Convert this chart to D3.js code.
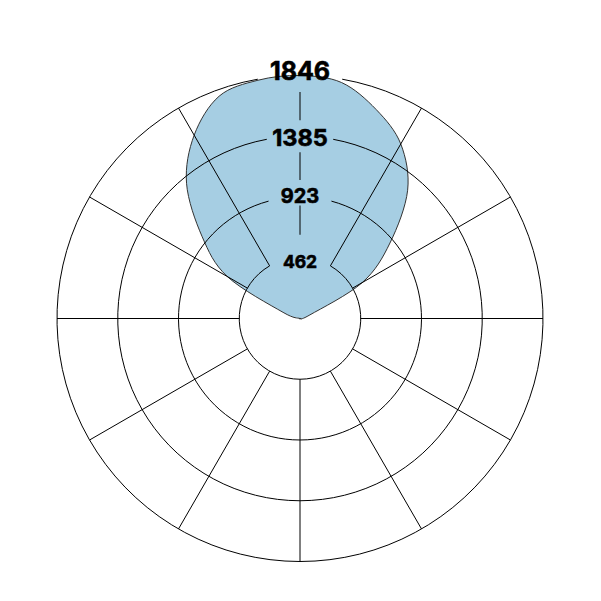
<!DOCTYPE html>
<html>
<head>
<meta charset="utf-8">
<script src="https://cdn.jsdelivr.net/npm/d3@7"></script>
<style>
    body { margin: 0; background: #fff; }
    svg { display: block; }
    .tick-label { font-family: Inter, "Noto Sans", sans-serif; font-weight: 700; fill: #000; stroke: #000; stroke-width: 0.6px; }
</style>
</head>
<body>
<div id="chart"></div>
<script>
// Direction of each sample in degrees, clockwise from the top
const angles = [0, 10, 20, 30, 40, 50, 60, 70, 80, 90, 100, 110, 120, 130, 140, 150, 160, 170,
    180, 190, 200, 210, 220, 230, 240, 250, 260, 270, 280, 290, 300, 310, 320, 330, 340, 350];

// Value measured in each direction
const values = [1846, 1820, 1690, 1531, 1272, 892, 547, 80, 0, 0, 0, 0, 0, 0, 0, 0, 0, 0,
    0, 0, 0, 0, 0, 0, 0, 0, 0, 0, 0, 137, 638, 972, 1341, 1608, 1797, 1838];

// Radial grid
const ringValues = [461.5, 923, 1384.5, 1846];
const ringLabels = ["462", "923", "1385", "1846"];
const spokeAngles = [0, 30, 60, 90, 120, 150, 180, 210, 240, 270, 300, 330];

const width = 601;
const height = 601;
const cx = 300;
const cy = 318.5;
const outerRadius = 243;

const rad = d => d * Math.PI / 180;

const svg = d3.select("#chart").append("svg")
    .attr("width", width)
    .attr("height", height);

const g = svg.append("g")
    .attr("transform", `translate(${cx},${cy})`);

const r = d3.scaleLinear()
    .domain([0, d3.max(ringValues)])
    .range([0, outerRadius]);

const points = angles.map((a, i) => ({angle: rad(a), value: values[i]}));

// Filled shape
const shape = d3.lineRadial()
    .angle(d => d.angle)
    .radius(d => r(d.value))
    .curve(d3.curveCardinalClosed);

g.append("path")
    .datum(points)
    .attr("d", shape)
    .attr("fill", "#a6cee3")
    .attr("stroke", "#333")
    .attr("stroke-width", 1);

const grid = g.append("g")
    .attr("fill", "none")
    .attr("stroke", "#000")
    .attr("stroke-width", 1);

// Rings, opened at the top where the labels sit
const ringGap = [30, 15, 10.5, 10];
ringValues.forEach((v, i) => {
    const p = d3.path();
    const gap = rad(ringGap[i]);
    p.arc(0, 0, r(v), -Math.PI / 2 + gap, 3 * Math.PI / 2 - gap);
    grid.append("path").attr("d", p.toString());
});

// Spokes from the inner ring to the outer one
const r0 = r(ringValues[0]);
const r1 = r(ringValues[ringValues.length - 1]);
spokeAngles.filter(a => a !== 0).forEach(a => {
    const s = Math.sin(rad(a)), c = -Math.cos(rad(a));
    grid.append("line")
        .attr("x1", r0 * s).attr("y1", r0 * c)
        .attr("x2", r1 * s).attr("y2", r1 * c);
});

// The top spoke is broken up by the labels
const segPad = [[23, 8.5], [17, 16], [16, 16.5]];
for (let i = 0; i < ringValues.length - 1; i++) {
    grid.append("line")
        .attr("x1", 0).attr("y1", -(r(ringValues[i]) + segPad[i][0]))
        .attr("x2", 0).attr("y2", -(r(ringValues[i + 1]) - segPad[i][1]));
}

// Labels
const labelSize = [17.5, 20, 23.5, 25];
const labelShift = [3.5, -0.8, 1.2, -5];
g.selectAll(".tick-label")
    .data(ringValues)
    .join("text")
    .attr("class", "tick-label")
    .attr("x", 0)
    .attr("y", (d, i) => -r(d) + labelShift[i])
    .attr("text-anchor", "middle")
    .attr("dominant-baseline", "central")
    .style("font-size", (d, i) => labelSize[i] + "px")
    .text((d, i) => ringLabels[i]);
</script>
</body>
</html>
